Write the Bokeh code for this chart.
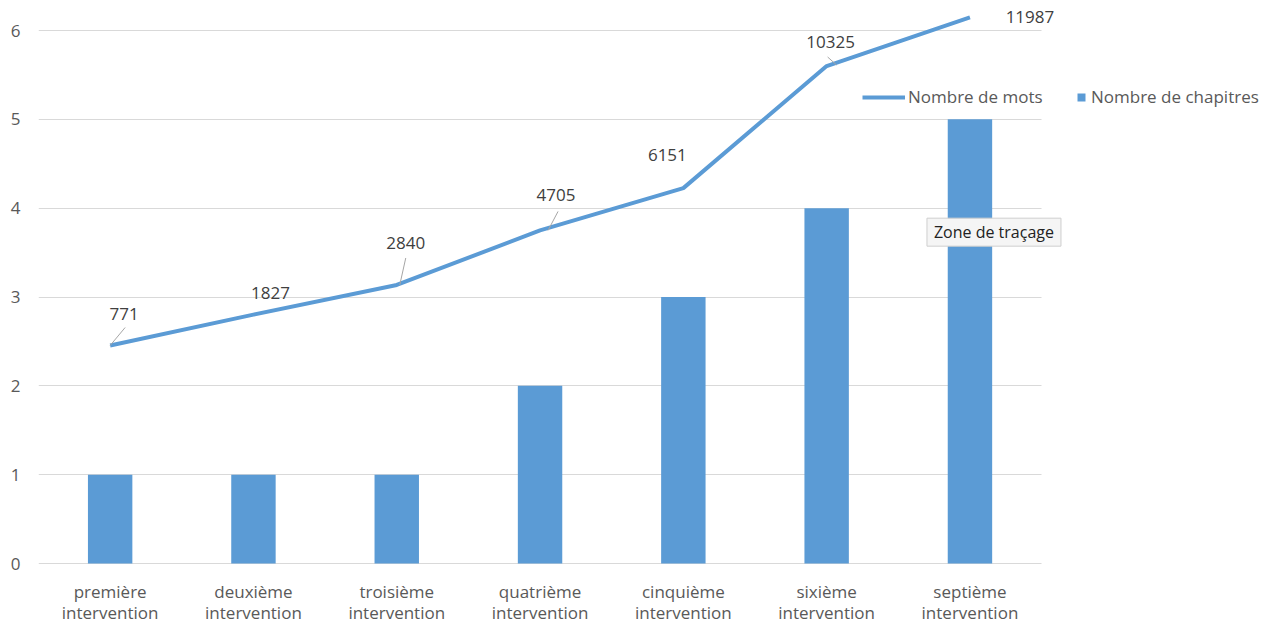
from bokeh.plotting import figure
from bokeh.models import ColumnDataSource, Range1d, Legend, LegendItem, Label, FixedTicker
from bokeh.embed import file_html
from bokeh.resources import INLINE
from bokeh.core.properties import value

# ---- data ----
categories = ["première intervention", "deuxième intervention", "troisième intervention",
              "quatrième intervention", "cinquième intervention", "sixième intervention",
              "septième intervention"]
chapitres = [1, 1, 1, 2, 3, 4, 5]
mots = [771, 1827, 2840, 4705, 6151, 10325, 11987]
y_ticks = [0, 1, 2, 3, 4, 5, 6]

# ---- styling / layout ----
BLUE = "#5B9BD5"
FONT = "Open Sans"
FRAME_W, FRAME_H = 1235, 614
X0 = -0.5
X1 = X0 + FRAME_W / 143.3       # categories occupy -0.5 .. 6.5, rest is room for the legend
Y0, Y1 = -0.6867, 6.2254        # 0..6 chapters, lower part holds category labels
W0, W1 = -8766, 12223           # hidden secondary scale for word counts
label_dx = [14, 17, 9, 16, -16, 4, 60]
label_dy = [-32, -22, -42, -35, -33, -24, 0]
# leader lines (px from point): (x_start, y_start, x_end, y_end) or None
leaders = [(0, 0, 15, -18), None, (3, 0, 9, -27), (8, 0, 18, -19), None, (10, -1, 1, -9), None]

xs = list(range(len(categories)))
line1 = [c.split(" ", 1)[0] for c in categories]
line2 = [c.split(" ", 1)[1] for c in categories]

src = ColumnDataSource(dict(x=xs, chap=chapitres, mots=mots, lab=[str(m) for m in mots],
                            dx=label_dx, dy=label_dy, l1=line1, l2=line2,
                            zero=[0] * len(xs)))

p = figure(x_range=Range1d(X0, X1), y_range=Range1d(Y0, Y1),
           frame_width=FRAME_W, frame_height=FRAME_H, output_backend="svg",
           toolbar_location=None, x_axis_location=None,
           min_border_left=38, min_border_right=0, min_border_top=10, min_border_bottom=0)
p.extra_y_ranges = {"mots": Range1d(W0, W1)}
p.outline_line_color = None
p.background_fill_color = "white"
p.border_fill_color = "white"

bars = p.vbar(x="x", top="chap", width=0.31, source=src, fill_color=BLUE, line_color=None)
line = p.line(x="x", y="mots", source=src, y_range_name="mots", line_color=BLUE, line_width=4)

# leader lines of the data labels
sx = FRAME_W / (X1 - X0)
sw = FRAME_H / (W1 - W0)
lx0, ly0, lx1, ly1 = [], [], [], []
for xi, wi, ld in zip(xs, mots, leaders):
    if ld is None:
        continue
    lx0.append(xi + ld[0] / sx); ly0.append(wi - ld[1] / sw)
    lx1.append(xi + ld[2] / sx); ly1.append(wi - ld[3] / sw)
p.segment(x0=lx0, y0=ly0, x1=lx1, y1=ly1, y_range_name="mots", line_color="#a6a6a6", line_width=1)

p.text(x="x", y="mots", text="lab", source=src, y_range_name="mots",
       x_offset="dx", y_offset="dy", text_align="center", text_baseline="middle",
       text_font=value(FONT), text_font_size="17px", text_color="#404040")

# category labels (two lines under each bar)
p.text(x="x", y="zero", text="l1", source=src, y_offset=28, text_align="center",
       text_baseline="middle", text_font=value(FONT), text_font_size="17px", text_color="#595959")
p.text(x="x", y="zero", text="l2", source=src, y_offset=49, text_align="center",
       text_baseline="middle", text_font=value(FONT), text_font_size="17px", text_color="#595959")

# axes / grid
for g in p.grid:
    if g.dimension == 0:
        g.visible = False
p.ygrid.grid_line_color = "#d9d9d9"
p.ygrid.grid_line_width = 1
p.ygrid.cross_bounds = (X0, 6.5)
p.yaxis.ticker = FixedTicker(ticks=y_ticks)
p.yaxis.axis_line_color = None
p.yaxis.major_tick_line_color = None
p.yaxis.minor_tick_line_color = None
p.yaxis.major_tick_out = 0
p.yaxis.major_tick_in = 0
p.yaxis.major_label_text_font = FONT
p.yaxis.major_label_text_color = "#595959"
p.yaxis.major_label_text_font_size = "17px"
p.yaxis.major_label_standoff = 18

# legends
leg1 = Legend(items=[LegendItem(label="Nombre de mots", renderers=[line])],
              location=(824, 516), padding=0, margin=0, border_line_color=None,
              background_fill_alpha=0, glyph_width=43, glyph_height=20, label_standoff=3,
              label_text_font=FONT, label_text_font_size="17px", label_text_color="#595959")
leg2 = Legend(items=[LegendItem(label="Nombre de chapitres", renderers=[bars])],
              location=(1038, 516), padding=0, margin=0, border_line_color=None,
              background_fill_alpha=0, glyph_width=10, glyph_height=10, label_standoff=5,
              label_text_font=FONT, label_text_font_size="17px", label_text_color="#595959")
p.add_layout(leg1)
p.add_layout(leg2)

tip = Label(x=5.70, y=3.73, text="Zone de traçage", text_align="left", text_baseline="middle",
            text_font=FONT, text_font_size="16px", text_color="#222222",
            background_fill_color="#f5f5f5", border_line_color="#cfcfcf", padding=(7, 3))
p.add_layout(tip)

open("out.html", "w").write(file_html(p, INLINE))
